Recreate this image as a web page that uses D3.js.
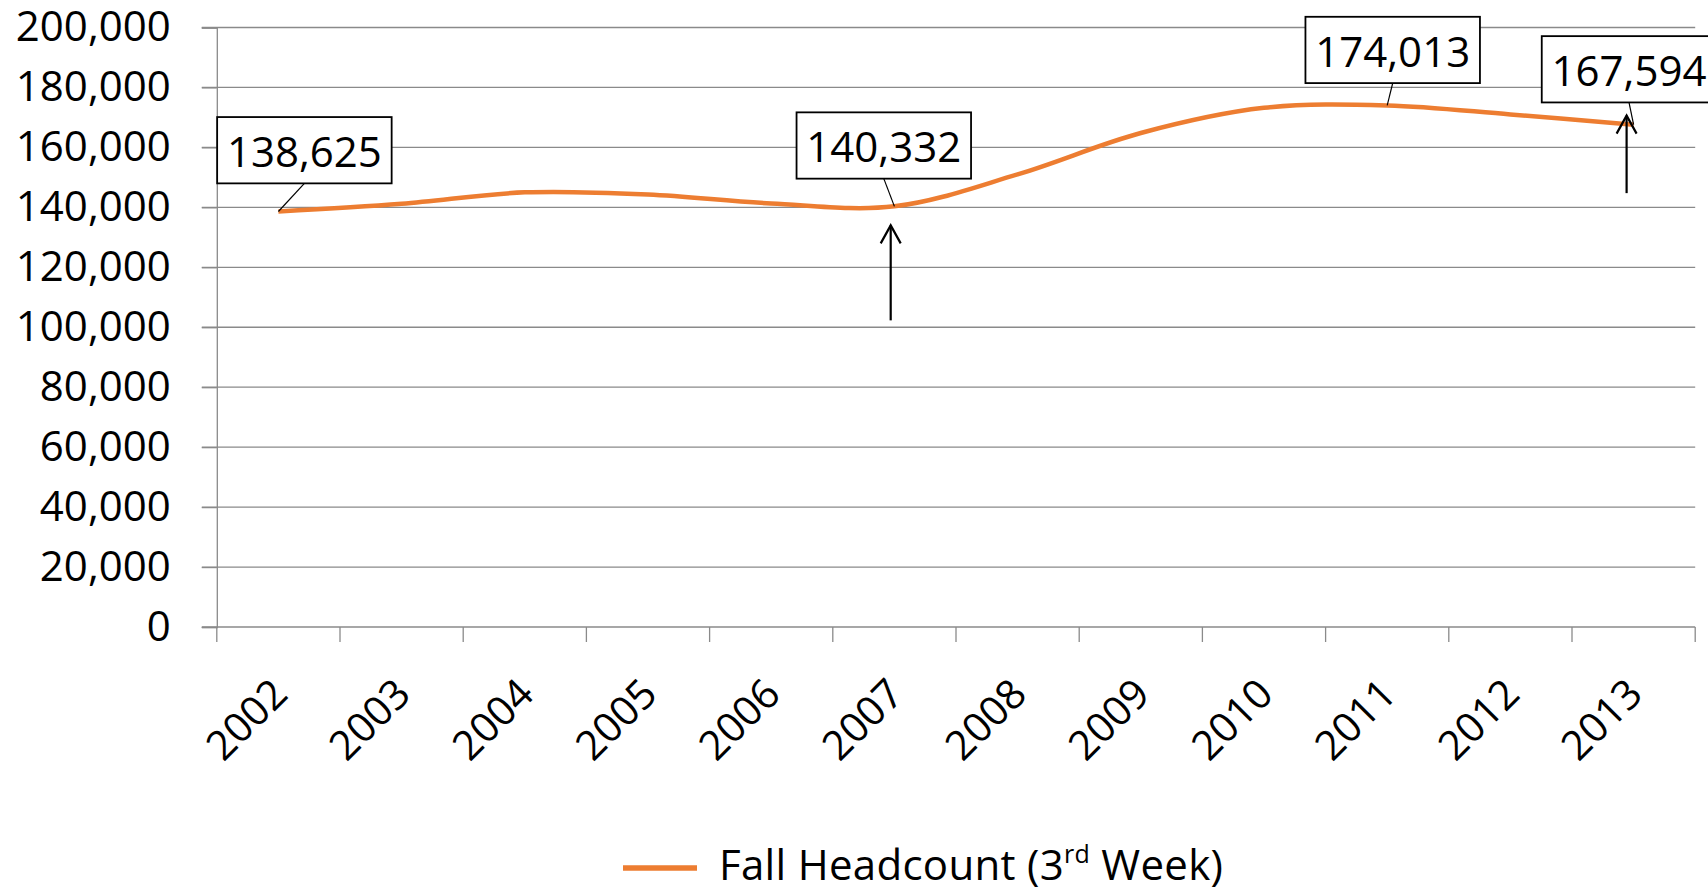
<!DOCTYPE html>
<html>
<head>
<meta charset="utf-8">
<script src="https://cdn.jsdelivr.net/npm/d3@7"></script>
<style>
  body { margin: 0; background: #fff; }
  text { font-family: "Open Sans", sans-serif; fill: #000; }
</style>
</head>
<body>
<div id="chart"></div>
<script>
// values
const years = ["2002", "2003", "2004", "2005", "2006", "2007", "2008", "2009", "2010", "2011", "2012", "2013"];
const headcount = [138625, 141200, 145000, 144300, 141300, 140332, 151000, 164800, 173200, 174013, 171000, 167594];
const yTicks = [0, 20000, 40000, 60000, 80000, 100000, 120000, 140000, 160000, 180000, 200000];
const labelledYears = ["2002", "2007", "2011", "2013"];
const arrowYears = ["2007", "2013"];
const seriesName = "Fall Headcount (3";

const width = 1708, height = 890;
const plotLeft = 216.8, plotRight = 1695.2, plotTop = 27.5, plotBottom = 627;
const orange = "#ED7D31", grid = "#8a8a8a";

const svg = d3.select("#chart").append("svg")
    .attr("width", width)
    .attr("height", height);

const x = d3.scaleBand().domain(years).range([plotLeft, plotRight]);
const y = d3.scaleLinear().domain([0, 200000]).range([plotBottom, plotTop]);
const cx = d => x(d) + x.bandwidth() / 2;

const data = years.map((yr, i) => ({ year: yr, value: headcount[i] }));

// gridlines
svg.append("g")
    .selectAll("line")
    .data(yTicks)
    .enter().append("line")
    .attr("x1", plotLeft - 15).attr("x2", plotRight)
    .attr("y1", d => y(d)).attr("y2", d => y(d))
    .attr("stroke", grid).attr("stroke-width", 1.3);

// y axis
const yAxis = svg.append("g")
    .attr("transform", `translate(${plotLeft},0)`)
    .call(d3.axisLeft(y).tickValues(yTicks).tickSize(15).tickPadding(31).tickFormat(d3.format(",")));
yAxis.select(".domain").attr("stroke", grid).attr("stroke-width", 1.3);
yAxis.selectAll(".tick line").attr("stroke", grid).attr("stroke-width", 1.3);
yAxis.selectAll(".tick text")
    .style("font-size", "42px")
    .style("font-family", "'Open Sans', sans-serif")
    .attr("fill", "#000");

// x axis: ticks at category boundaries
const bounds = years.map(d => x(d)).concat([x.range()[1]]);
svg.append("g")
    .selectAll("line")
    .data(bounds)
    .enter().append("line")
    .attr("x1", d => d).attr("x2", d => d)
    .attr("y1", plotBottom).attr("y2", plotBottom + 15)
    .attr("stroke", grid).attr("stroke-width", 1.3);

svg.append("g")
    .selectAll("text")
    .data(years)
    .enter().append("text")
    .attr("transform", d => `translate(${cx(d)},${plotBottom + 58}) rotate(-45)`)
    .attr("text-anchor", "end")
    .attr("dominant-baseline", "central")
    .style("font-size", "41px")
    .text(d => d);

// smoothed line
const line = d3.line()
    .x(d => cx(d.year))
    .y(d => y(d.value))
    .curve(d3.curveCatmullRom.alpha(0.5));

svg.append("path")
    .datum(data)
    .attr("d", line)
    .attr("fill", "none")
    .attr("stroke", orange)
    .attr("stroke-width", 4.5);

// arrows (offsets from the data point)
const arrowSpec = {
    "2007": { dx: -3.7, top: 19, bot: 114 },
    "2013": { dx: -7, top: -9, bot: 68.5 }
};
arrowYears.forEach(yr => {
    const d = data.find(e => e.year === yr);
    const s = arrowSpec[yr];
    const px = cx(yr) + s.dx, py = y(d.value);
    const g = svg.append("g").attr("stroke", "#000").attr("stroke-width", 2.2).attr("fill", "none");
    g.append("line").attr("x1", px).attr("x2", px).attr("y1", py + s.top).attr("y2", py + s.bot);
    g.append("path").attr("d", `M${px - 10},${py + s.top + 18}L${px},${py + s.top}L${px + 10},${py + s.top + 18}`);
});

// data labels with leader lines
const labelOffset = {
    "2002": { dx: 26, dy: -44.4 },
    "2007": { dx: -10.6, dy: -44 },
    "2011": { dx: 5.5, dy: -38.6 },
    "2013": { dx: -4.6, dy: -38.5 }
};
const boxW = 174.5, boxUp = 50, boxDown = 16.3;
const labels = svg.append("g");
labelledYears.forEach(yr => {
    const d = data.find(e => e.year === yr);
    const o = labelOffset[yr];
    const px = cx(yr), py = y(d.value);
    const tx = px + o.dx, base = py + o.dy;
    labels.append("line")
        .attr("x1", tx).attr("y1", base + boxDown)
        .attr("x2", px).attr("y2", py)
        .attr("stroke", "#000").attr("stroke-width", 1.2);
    labels.append("rect")
        .attr("x", tx - boxW / 2).attr("y", base - boxUp)
        .attr("width", boxW).attr("height", boxUp + boxDown)
        .attr("fill", "#fff").attr("stroke", "#000").attr("stroke-width", 1.8);
    labels.append("text")
        .attr("x", tx).attr("y", base)
        .attr("text-anchor", "middle")
        .style("font-size", "42px")
        .text(d3.format(",")(d.value));
});

// legend
const legend = svg.append("g");
legend.append("line")
    .attr("x1", 623).attr("x2", 697).attr("y1", 868).attr("y2", 868)
    .attr("stroke", orange).attr("stroke-width", 5.5);
const lt = legend.append("text")
    .attr("x", 719).attr("y", 880)
    .style("font-size", "42px")
    .style("letter-spacing", "0.3px");
lt.append("tspan").text(seriesName);
lt.append("tspan").attr("dy", -17).style("font-size", "25px").text("rd");
lt.append("tspan").attr("dy", 17).text(" Week)");
</script>
</body>
</html>
